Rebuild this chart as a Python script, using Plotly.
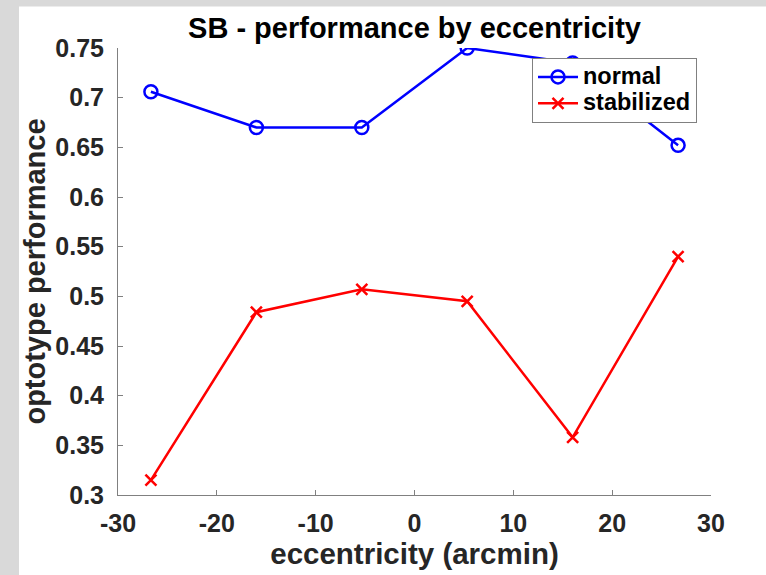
import plotly.graph_objects as go

# Eccentricity of each test location (arcmin)
eccentricity = [-26.67, -16.0, -5.33, 5.33, 16.0, 26.67]

# Optotype performance per condition
normal = [0.706, 0.670, 0.670, 0.750, 0.735, 0.652]
stabilized = [0.315, 0.484, 0.507, 0.495, 0.358, 0.540]

y_ticks = [0.3, 0.35, 0.4, 0.45, 0.5, 0.55, 0.6, 0.65, 0.7, 0.75]
y_tick_text = ["0.3", "0.35", "0.4", "0.45", "0.5", "0.55", "0.6", "0.65", "0.7", "0.75"]
x_ticks = [-30, -20, -10, 0, 10, 20, 30]
x_tick_text = ["-30", "-20", "-10", "0", "10", "20", "30"]

W, H = 766, 575
L, R, T, B = 118, 55, 48, 65
PW, PH = W - L - R, H - T - B

FONT = "Liberation Sans, Arial, Helvetica, sans-serif"
AXIS_GRAY = "#808080"
TEXT_DARK = "#262626"
FRAME = "#d9d9d9"


def px_x(px):
    return (px - L) / PW


def px_y(py):
    return (H - B - py) / PH


def legend_label(text):
    # larger glyphs than the legend's nominal font keep the rows compact
    return '<span style="font-size:23.5px">%s</span>' % text


fig = go.Figure()
fig.add_trace(go.Scatter(
    x=eccentricity, y=normal, name=legend_label("normal"), mode="lines+markers",
    line=dict(color="#0000ff", width=2.5),
    marker=dict(symbol="circle-open", size=13, color="#0000ff",
                line=dict(width=2.5, color="#0000ff")),
))
fig.add_trace(go.Scatter(
    x=eccentricity, y=stabilized, name=legend_label("stabilized"), mode="lines+markers",
    line=dict(color="#ff0000", width=2.5),
    marker=dict(symbol="x-thin-open", size=11, color="#ff0000",
                line=dict(width=2.5, color="#ff0000")),
))

# white figure panel on a grey window, offset from the top-left corner
fig.add_shape(type="rect", xref="paper", yref="paper", layer="below",
              x0=px_x(19), x1=px_x(W + 20), y0=px_y(H + 20), y1=px_y(5),
              fillcolor="white", line=dict(width=0))

fig.update_layout(
    width=W, height=H,
    margin=dict(l=L, r=R, t=T, b=B, pad=0),
    paper_bgcolor=FRAME, plot_bgcolor="white",
    font=dict(family=FONT, color=TEXT_DARK),
    title=dict(text="SB - performance by eccentricity",
               font=dict(family=FONT, size=29, color="black", weight="bold"),
               x=0.5, xref="paper", xanchor="center",
               y=1 - 28 / H, yref="container", yanchor="middle"),
    showlegend=True,
    legend=dict(x=px_x(532), y=px_y(58), xanchor="left", yanchor="top",
                bgcolor="white", bordercolor=AXIS_GRAY, borderwidth=1,
                font=dict(family=FONT, size=18, color="black", weight="bold"),
                itemwidth=40, tracegroupgap=0),
)

fig.update_xaxes(
    range=[-30, 30], tickvals=x_ticks, ticktext=x_tick_text,
    showline=True, linecolor=AXIS_GRAY, linewidth=1, mirror=False,
    ticks="inside", ticklen=5, tickcolor=AXIS_GRAY, tickwidth=1,
    showgrid=False, zeroline=False, ticklabelstandoff=6,
    tickfont=dict(family=FONT, size=25, color=TEXT_DARK, weight="bold"),
    title=dict(text="eccentricity (arcmin)", standoff=5,
               font=dict(family=FONT, size=29.5, color=TEXT_DARK, weight="bold")),
)
fig.update_yaxes(
    range=[0.3, 0.75], tickvals=y_ticks, ticktext=y_tick_text,
    showline=True, linecolor=AXIS_GRAY, linewidth=1, mirror=False,
    ticks="inside", ticklen=5, tickcolor=AXIS_GRAY, tickwidth=1,
    showgrid=False, zeroline=False, ticklabelstandoff=8,
    tickfont=dict(family=FONT, size=25, color=TEXT_DARK, weight="bold"),
    title=dict(text="optotype performance", standoff=1,
               font=dict(family=FONT, size=29, color=TEXT_DARK, weight="bold")),
)

fig.write_html("out.html")
